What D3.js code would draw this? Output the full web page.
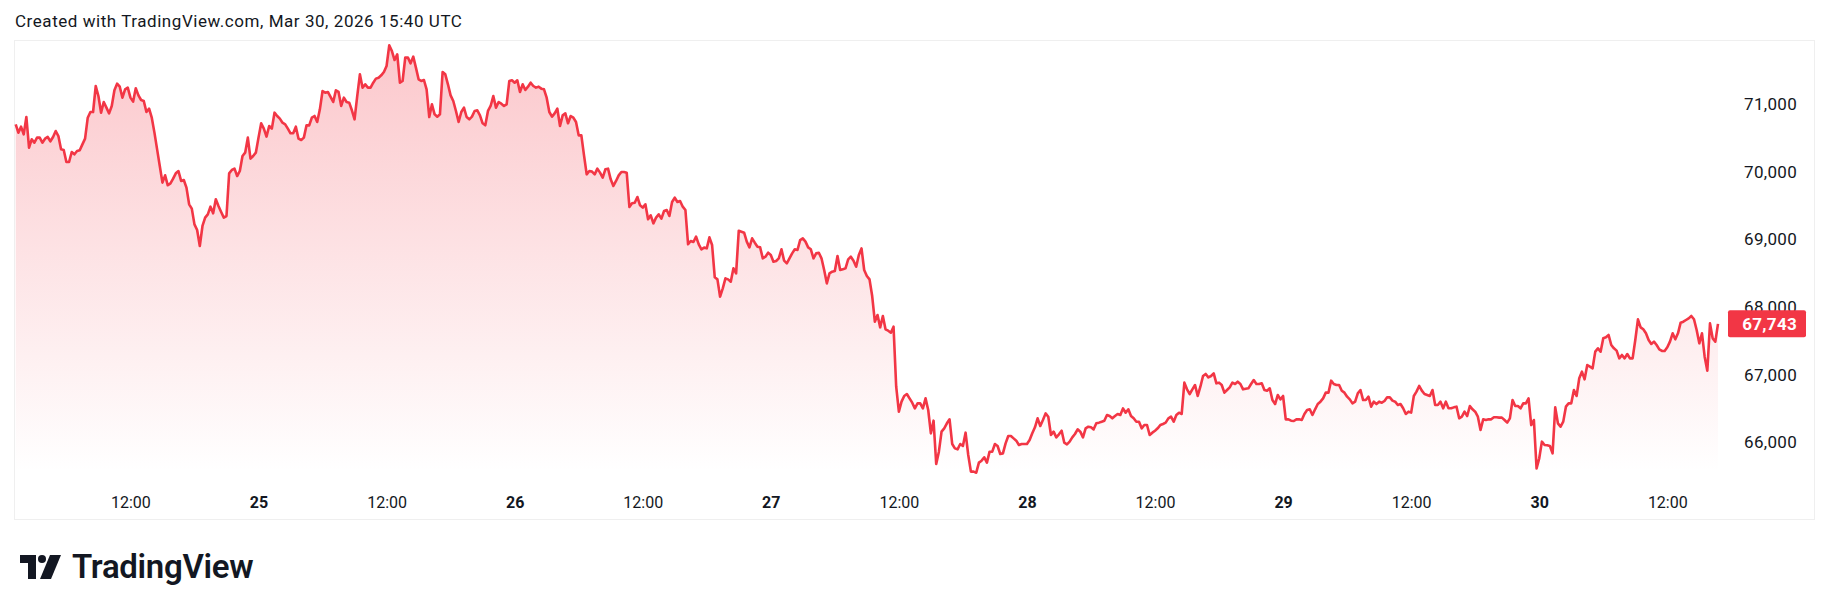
<!DOCTYPE html>
<html><head><meta charset="utf-8">
<script src="https://cdn.jsdelivr.net/npm/d3@7"></script>
<style>
html,body{margin:0;padding:0;background:#fff;}
svg{display:block;}
</style></head><body>
<svg id="c" width="1830" height="611"></svg>
<script>
// ---------- data ----------
const startTime = "2026-03-24T01:15:00Z";
const stepMinutes = 15;
const prices = [
70691,70568,70656,70543,70799,70346,70469,70420,70494,70494,
70420,70479,70504,70440,70504,70592,70518,70321,70312,70134,
70134,70282,70248,70297,70307,70395,70479,70789,70873,70873,
71257,71109,70863,71021,70937,70853,70962,71193,71292,71247,
71085,71208,71233,71085,71026,71223,71119,71050,71036,70873,
70922,70789,70568,70321,70075,69829,69937,69790,69819,69888,
69967,70001,69854,69868,69755,69509,69445,69213,69130,68893,
69189,69312,69361,69474,69376,69583,69484,69396,69312,69336,
69967,70016,70036,69927,70001,70223,70272,70494,70184,70223,
70272,70494,70706,70627,70509,70666,70627,70863,70814,70775,
70715,70691,70627,70558,70558,70656,70479,70459,70494,70676,
70676,70789,70814,70725,70912,71183,71159,71169,71095,71021,
71193,71169,70962,71085,71021,71011,70898,70765,71109,71430,
71233,71282,71233,71233,71306,71366,71380,71415,71464,71553,
71858,71774,71641,71725,71306,71331,71676,71676,71592,71691,
71528,71356,71331,71346,71208,70799,70986,70839,70804,70839,
71464,71430,71282,71119,71036,70888,70725,70873,70937,70799,
70765,70804,70888,70898,70824,70706,70676,70888,70962,71109,
70937,71021,70996,70962,70986,71331,71341,71306,71341,71169,
71282,71198,71247,71306,71257,71233,71247,71218,71208,71085,
70873,70804,70853,70922,70666,70824,70853,70706,70814,70789,
70725,70528,70528,70233,69952,70001,69992,69952,70036,69977,
69903,70026,70036,69878,69780,69854,69937,69987,69987,69977,
69469,69524,69533,69617,69494,69460,69509,69287,69346,69228,
69312,69361,69297,69410,69425,69336,69543,69607,69543,69558,
69474,69425,68918,68967,68952,69031,68918,68844,68869,
68858,69021,68908,68430,68400,68144,68267,68415,68400,68366,
68563,68489,69119,69105,69090,68957,68873,69006,68942,68883,
68873,68711,68735,68794,68760,68661,68671,68711,68844,68676,
68637,68711,68784,68844,68834,68981,69006,68957,68873,68844,
68711,68784,68794,68711,68538,68341,68489,68514,68523,68745,
68538,68548,68563,68696,68735,68676,68587,68760,68858,68538,
68450,68400,68154,67775,67873,67691,67859,67662,67642,67612,
67701,66814,66445,66593,66677,66706,66642,66578,66494,66568,
66568,66494,66642,66470,66125,66312,65672,65854,66150,66199,
66273,66332,65967,65903,65889,65967,65938,66135,65805,65559,
65559,65544,65692,65721,65770,65692,65854,65854,65967,65938,
65820,65829,65977,66086,66086,66051,66017,65953,65967,65967,
65967,66026,66125,66214,66347,66233,66322,66420,
66371,66100,66150,66066,66110,66164,65987,65962,66002,66066,
66115,66184,66150,66066,66199,66223,66214,66184,66273,66283,
66297,66312,66396,66381,66347,66381,66411,66396,66494,66430,
66480,66381,66347,66297,66297,66199,66248,66248,66100,66135,
66164,66199,66248,66263,66283,66347,66371,66297,66396,66430,
66411,66874,66775,66706,66775,66839,66677,66814,66972,67002,
66952,66972,67011,66864,66874,66839,66726,66765,66805,66874,
66854,66888,66854,66775,66785,66790,66854,66913,66854,66854,
66864,66765,66755,66790,66617,66558,66691,66627,66677,66332,
66332,66312,66307,66332,66332,66322,66411,66470,66480,66396,
66480,66558,66593,66642,66726,66726,66903,66854,66839,66839,
66755,66726,66667,66627,66568,66593,66716,66765,66617,66617,
66667,66519,66593,66558,66593,66578,66603,66657,66657,66608,
66593,
66544,66559,66495,66411,66445,66431,66677,66741,66825,66756,
66706,66692,66677,66765,66544,66544,66593,66495,66593,66495,
66495,66509,66519,66347,66371,66445,66381,66529,66480,66445,
66371,66174,66332,66322,66332,66332,66362,66362,66357,66357,
66322,66283,66347,66618,66529,66529,66495,66568,66568,66642,
66248,66322,65608,65756,66002,65953,65948,65938,65830,66509,
66273,66224,66298,66519,66568,66568,66765,66677,66938,67036,
66923,67135,67110,67086,67332,67381,67332,67529,67544,67578,
67430,67381,67347,67233,67283,67233,67297,67233,67233,67504,
67810,67691,67662,67603,67504,67445,67480,67430,67366,67342,
67342,67396,67480,67603,67514,67603,67760,67775,67800,67824,
67859,67810,67652,67455,67603,67258,67051,67750,67529,67480,
67743
];
const yTicks = [66000, 67000, 68000, 69000, 70000, 71000];
const xTickTimes = ["2026-03-24T12:00:00Z","2026-03-25T00:00:00Z","2026-03-25T12:00:00Z",
  "2026-03-26T00:00:00Z","2026-03-26T12:00:00Z","2026-03-27T00:00:00Z","2026-03-27T12:00:00Z",
  "2026-03-28T00:00:00Z","2026-03-28T12:00:00Z","2026-03-29T00:00:00Z","2026-03-29T12:00:00Z",
  "2026-03-30T00:00:00Z","2026-03-30T12:00:00Z"];
const xTickLabels = ["12:00","25","12:00","26","12:00","27","12:00","28","12:00","29","12:00","30","12:00"];
const lastPrice = 67743;
const titleText = "Created with TradingView.com, Mar 30, 2026 15:40 UTC";
const brandText = "TradingView";

// ---------- setup ----------
const RED = "#F23645";
const TXT = "#131722";
const FONT = "Roboto, 'Liberation Sans', sans-serif";
const svg = d3.select("#c");

const t0 = new Date(startTime);
const times = prices.map((_, i) => new Date(t0.getTime() + i * stepMinutes * 60000));
const data = prices.map((p, i) => ({ t: times[i], v: p }));

const frame = { left: 15, top: 41, right: 1815, bottom: 520 };
const paneBottom = 472;

const x = d3.scaleUtc().domain([times[0], times[times.length - 1]]).range([15.7, 1718]);
const y = d3.scaleLinear().domain([66000, 71000]).range([441.8, 103.4]);

// title
svg.append("text").attr("x", 15).attr("y", 27)
  .attr("font-family", FONT).attr("font-size", 17).attr("letter-spacing", 0.55).attr("fill", TXT)
  .text(titleText);

// frame
svg.append("rect").attr("x", frame.left - 0.5).attr("y", frame.top - 0.5)
  .attr("width", frame.right - frame.left).attr("height", frame.bottom - frame.top)
  .attr("fill", "#fff").attr("stroke", "#EFEFEF").attr("stroke-width", 1);

// gradient
const defs = svg.append("defs");
const grad = defs.append("linearGradient").attr("id", "g")
  .attr("gradientUnits", "userSpaceOnUse").attr("x1", 0).attr("x2", 0)
  .attr("y1", frame.top).attr("y2", paneBottom);
grad.append("stop").attr("offset", 0).attr("stop-color", RED).attr("stop-opacity", 0.28);
grad.append("stop").attr("offset", 1).attr("stop-color", RED).attr("stop-opacity", 0.0);

const area = d3.area().x(d => x(d.t)).y0(paneBottom).y1(d => y(d.v));
const line = d3.line().x(d => x(d.t)).y(d => y(d.v));

svg.append("path").datum(data).attr("d", area).attr("fill", "url(#g)");
svg.append("path").datum(data).attr("d", line).attr("fill", "none")
  .attr("stroke", RED).attr("stroke-width", 2.6).attr("stroke-linejoin", "round");

// y axis (right)
const yAxis = d3.axisRight(y).tickValues(yTicks).tickSize(0)
  .tickFormat(d3.format(","));
const gy = svg.append("g").attr("transform", "translate(1797,0)").call(yAxis);
gy.select(".domain").remove();
gy.selectAll("text").attr("x", 0).attr("dy", "0.35em").attr("text-anchor", "end")
  .attr("font-family", FONT).attr("font-size", 17).attr("letter-spacing", 0.3).attr("fill", TXT);

// last price label
const ly = y(lastPrice);
svg.append("rect").attr("x", 1728).attr("y", ly - 13.5).attr("width", 78).attr("height", 27)
  .attr("rx", 2).attr("fill", RED);
svg.append("text").attr("x", 1797).attr("y", ly).attr("dy", "0.35em").attr("text-anchor", "end")
  .attr("font-family", FONT).attr("font-size", 17).attr("font-weight", 700).attr("fill", "#fff")
  .attr("letter-spacing", 0.3)
  .text(d3.format(",")(lastPrice));

// x axis
const tickDates = xTickTimes.map(s => new Date(s));
const xAxis = d3.axisBottom(x).tickValues(tickDates).tickSize(0)
  .tickFormat((d, i) => xTickLabels[i]);
const gx = svg.append("g").attr("transform", "translate(0,502)").call(xAxis);
gx.select(".domain").remove();
gx.selectAll("text").attr("y", 0).attr("dy", "0.35em")
  .attr("font-family", FONT).attr("font-size", 16).attr("fill", TXT)
  .attr("font-weight", (d, i) => /:/.test(xTickLabels[i]) ? 400 : 700);

// brand
const logo = svg.append("g").attr("transform", "translate(20,555)").attr("fill", TXT);
logo.append("path").attr("d", "M0,0 H16 V24 H8 V8 H0 Z");
logo.append("circle").attr("cx", 22).attr("cy", 4).attr("r", 4);
logo.append("path").attr("d", "M30,0 H41 L31,24 H20 Z");
svg.append("text").attr("x", 72).attr("y", 578)
  .attr("font-family", FONT).attr("font-size", 33).attr("font-weight", 600).attr("fill", TXT)
  .attr("letter-spacing", -0.3)
  .text(brandText);
</script>
</body></html>
